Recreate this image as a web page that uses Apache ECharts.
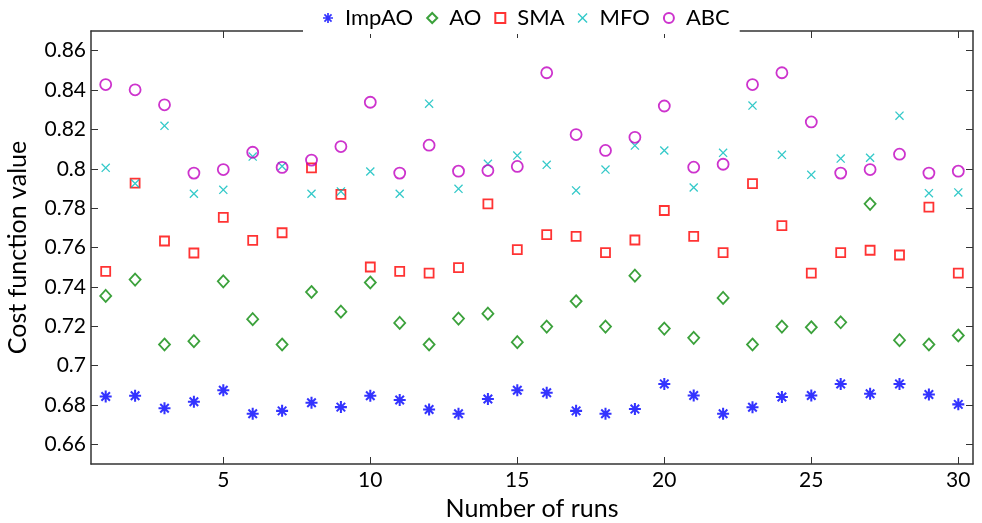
<!DOCTYPE html>
<html>
<head>
<meta charset="utf-8">
<script src="https://cdn.jsdelivr.net/npm/echarts@6/dist/echarts.min.js"></script>
<style>
  html, body { margin: 0; padding: 0; background: #fff; }
  #chart { width: 982px; height: 523px; }
</style>
</head>
<body>
<div id="chart"></div>
<script>
// runs 1..30
const runs = [1,2,3,4,5,6,7,8,9,10,11,12,13,14,15,16,17,18,19,20,21,22,23,24,25,26,27,28,29,30];

const impAO = [0.6843,0.6847,0.6783,0.6816,0.6875,0.6755,0.6770,0.6811,0.6789,0.6847,
               0.6825,0.6777,0.6755,0.6830,0.6875,0.6862,0.6770,0.6755,0.6779,0.6907,
               0.6848,0.6755,0.6788,0.6840,0.6848,0.6907,0.6857,0.6907,0.6853,0.6803];
const ao    = [0.7354,0.7437,0.7107,0.7124,0.7428,0.7236,0.7107,0.7374,0.7274,0.7422,
               0.7217,0.7107,0.7239,0.7264,0.7119,0.7198,0.7327,0.7198,0.7457,0.7188,
               0.7141,0.7344,0.7107,0.7198,0.7195,0.7220,0.7822,0.7129,0.7107,0.7153];
const sma   = [0.7479,0.7927,0.7633,0.7572,0.7753,0.7636,0.7675,0.8005,0.7870,0.7501,
               0.7479,0.7470,0.7498,0.7822,0.7589,0.7665,0.7657,0.7574,0.7638,0.7788,
               0.7657,0.7574,0.7925,0.7711,0.7470,0.7574,0.7586,0.7562,0.7805,0.7470];
const mfo   = [0.8005,0.7925,0.8218,0.7873,0.7893,0.8062,0.8013,0.7873,0.7885,0.7986,
               0.7873,0.8331,0.7898,0.8025,0.8067,0.8020,0.7890,0.7996,0.8118,0.8093,
               0.7905,0.8081,0.8321,0.8071,0.7969,0.8052,0.8056,0.8270,0.7876,0.7880];
const abc   = [0.8428,0.8401,0.8325,0.7978,0.7996,0.8084,0.8007,0.8044,0.8113,0.8338,
               0.7978,0.8120,0.7988,0.7991,0.8012,0.8488,0.8174,0.8093,0.8160,0.8319,
               0.8008,0.8023,0.8428,0.8488,0.8238,0.7978,0.7996,0.8074,0.7978,0.7988];

const xTicks = [5,10,15,20,25,30];
const yTicks = [0.66,0.68,0.7,0.72,0.74,0.76,0.78,0.8,0.82,0.84,0.86];

const FONT = 'Lato';
const starPath = 'path://M-10,-1.7L10,-1.7L10,1.7L-10,1.7Z M-1.7,-10L1.7,-10L1.7,10L-1.7,10Z ' +
  'M-5.9,-8.3L8.3,5.9L5.9,8.3L-8.3,-5.9Z M-8.3,5.9L5.9,-8.3L8.3,-5.9L-5.9,8.3Z';
const crossPath = 'path://M-6.3,-7.9L7.9,6.3L6.3,7.9L-7.9,-6.3Z M-7.9,6.3L6.3,-7.9L7.9,-6.3L-6.3,7.9Z';

function pts(vals) {
  return runs.map((r, i) => [r, vals[i]]);
}

let chartDom = document.getElementById('chart');
let myChart = echarts.init(chartDom);
let option;

const axisLine = { show: true, lineStyle: { color: '#333', width: 1.5 } };

option = {
  backgroundColor: '#fff',
  animation: false,
  legend: {
    top: 2,
    left: 303,
    padding: [5, 10, 5, 20],
    backgroundColor: '#fff',
    itemGap: 13,
    itemWidth: 10,
    itemHeight: 10,
    textStyle: { fontFamily: FONT, fontSize: 22, color: '#000', padding: [0, 0, 0, 7] },
    data: ['ImpAO', 'AO', 'SMA', 'MFO', 'ABC']
  },
  grid: { left: 91, right: 9, top: 31, bottom: 59, outerBoundsMode: 'none' },
  xAxis: [
    {
      type: 'value', min: 0.5, max: 30.5, position: 'bottom',
      name: 'Number of runs', nameLocation: 'middle', nameGap: 32,
      nameTextStyle: { fontFamily: FONT, fontSize: 25, color: '#000' },
      axisLine: axisLine,
      axisTick: { inside: true, length: 7, customValues: xTicks, lineStyle: { color: '#333' } },
      axisLabel: { customValues: xTicks, fontFamily: FONT, fontSize: 21, color: '#000', margin: 6 },
      splitLine: { show: false }
    },
    {
      type: 'value', min: 0.5, max: 30.5, position: 'top',
      axisLine: axisLine,
      axisTick: { inside: true, length: 7, customValues: xTicks, lineStyle: { color: '#333' } },
      axisLabel: { show: false },
      splitLine: { show: false }
    }
  ],
  yAxis: [
    {
      type: 'value', min: 0.65, max: 0.87, position: 'left',
      name: 'Cost function value', nameLocation: 'middle', nameGap: 61,
      nameTextStyle: { fontFamily: FONT, fontSize: 25, color: '#000' },
      axisLine: axisLine,
      axisTick: { inside: true, length: 7, customValues: yTicks, lineStyle: { color: '#333' } },
      axisLabel: {
        customValues: yTicks, fontFamily: FONT, fontSize: 21, color: '#000', margin: 5,
        formatter: v => String(Math.round(v * 100) / 100)
      },
      splitLine: { show: false }
    },
    {
      type: 'value', min: 0.65, max: 0.87, position: 'right',
      axisLine: axisLine,
      axisTick: { inside: true, length: 7, customValues: yTicks, lineStyle: { color: '#333' } },
      axisLabel: { show: false },
      splitLine: { show: false }
    }
  ],
  series: [
    {
      name: 'ImpAO', type: 'scatter', symbol: starPath, symbolSize: 12,
      itemStyle: { color: '#0000ff' },
      data: pts(impAO)
    },
    {
      name: 'AO', type: 'scatter', symbol: 'diamond', symbolSize: [11, 12],
      itemStyle: { color: 'rgba(0,0,0,0)', borderColor: '#0a8a0a', borderWidth: 1.8 },
      data: pts(ao)
    },
    {
      name: 'SMA', type: 'scatter', symbol: 'rect', symbolSize: 9,
      itemStyle: { color: 'rgba(0,0,0,0)', borderColor: '#ff0000', borderWidth: 1.8 },
      data: pts(sma)
    },
    {
      name: 'MFO', type: 'scatter', symbol: crossPath, symbolSize: 9,
      itemStyle: { color: '#00bcbc' },
      data: pts(mfo)
    },
    {
      name: 'ABC', type: 'scatter', symbol: 'circle', symbolSize: 11,
      itemStyle: { color: 'rgba(0,0,0,0)', borderColor: '#c000c0', borderWidth: 1.8 },
      data: pts(abc)
    }
  ]
};
option && myChart.setOption(option);
</script>
</body>
</html>
